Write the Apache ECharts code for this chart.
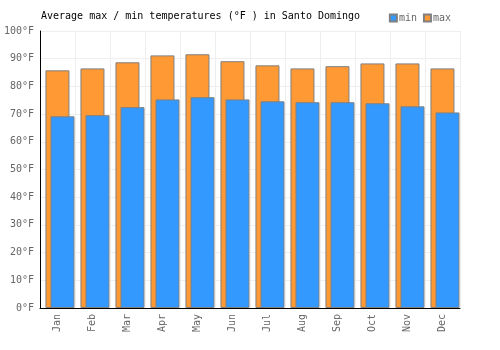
<!DOCTYPE html>
<html><head><meta charset="utf-8">
<script src="https://cdn.jsdelivr.net/npm/echarts@6/dist/echarts.min.js"></script>
<style>html,body{margin:0;padding:0;background:#fff}#c{width:500px;height:350px}</style>
</head><body><div id="c"></div>
<script>
var months = ['Jan','Feb','Mar','Apr','May','Jun','Jul','Aug','Sep','Oct','Nov','Dec'];
var maxTemps = [85.8, 86.5, 88.7, 91.2, 91.6, 89.1, 87.6, 86.5, 87.3, 88.3, 88.3, 86.5];
var minTemps = [69.2, 69.6, 72.5, 75.3, 76.1, 75.3, 74.6, 74.3, 74.3, 73.9, 72.8, 70.6];
var FONT = '"DejaVu Sans Mono", monospace';
var chart = echarts.init(document.getElementById('c'));
chart.setOption({
  animation: false,
  textStyle: {fontFamily: FONT},
  title: {text: 'Average max / min temperatures (°F ) in Santo Domingo', left: 36, top: 6,
    textStyle: {fontFamily: FONT, fontSize: 10, fontWeight: 'normal', color: '#000'}},
  legend: {data: ['min','max'], right: 44, top: 8, itemWidth: 7, itemHeight: 7, itemGap: 6,
    icon: 'rect', textStyle: {fontFamily: FONT, fontSize: 10, color: '#666', padding: [0,0,0,-3]}},
  grid: {left: 40, right: 40, top: 31, bottom: 42},
  xAxis: {type: 'category', data: months,
    axisLine: {lineStyle: {color: '#000', width: 1}}, axisTick: {show: false},
    axisLabel: {rotate: 90, color: '#666', fontSize: 10, fontFamily: FONT, margin: 6},
    splitLine: {show: true, lineStyle: {color: '#eee'}}},
  yAxis: {type: 'value', min: 0, max: 100, interval: 10,
    axisLine: {show: true, lineStyle: {color: '#000', width: 1}}, axisTick: {show: false},
    axisLabel: {formatter: '{value}°F', color: '#666', fontSize: 10, fontFamily: FONT, margin: 6},
    splitLine: {show: true, lineStyle: {color: '#eee'}}},
  series: [
    {name: 'max', type: 'bar', data: maxTemps, barWidth: 24, barGap: '-79%',
      itemStyle: {color: '#ff9933', borderColor: '#808080', borderWidth: 1}},
    {name: 'min', type: 'bar', data: minTemps, barWidth: 24,
      itemStyle: {color: '#3399ff', borderColor: '#808080', borderWidth: 1}},
    {name: 'pad', type: 'bar', data: months.map(function(){return '-';}), barWidth: 14}
  ]
});
</script></body></html>
